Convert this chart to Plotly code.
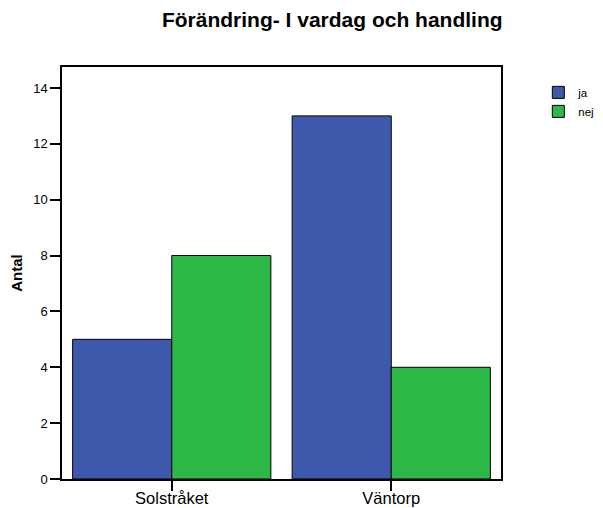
import plotly.graph_objects as go

categories = ["Solstråket", "Väntorp"]
ja_values = [5, 13]
nej_values = [8, 4]
y_ticks = [0, 2, 4, 6, 8, 10, 12, 14]

FONT = "Arial, Liberation Sans, sans-serif"

fig = go.Figure()
fig.add_trace(go.Bar(name="ja", x=categories, y=ja_values,
                     marker=dict(color="#3E58AC", line=dict(color="black", width=1))))
fig.add_trace(go.Bar(name="nej", x=categories, y=nej_values,
                     marker=dict(color="#2EB848", line=dict(color="black", width=1))))

# the page body adds an 8px offset, so the figure is 8px smaller on each axis
fig.update_layout(
    width=595, height=500,
    margin=dict(l=54, r=102, t=59, b=29, autoexpand=False),
    paper_bgcolor="white", plot_bgcolor="white",
    barmode="group", bargap=0.097, bargroupgap=0,
    font=dict(family=FONT, size=12, color="black"),
    title=dict(text="<b>Förändring- I vardag och handling</b>", x=0.545, xanchor="center",
               y=0.976, yanchor="middle", font=dict(size=21, family=FONT),
               automargin=False),
    legend=dict(x=1.085, y=0.9736, xanchor="left", yanchor="top",
                font=dict(size=11.5), tracegroupgap=0, itemwidth=30,
                bgcolor="rgba(0,0,0,0)"),
    showlegend=True,
)
fig.update_xaxes(showline=True, linecolor="black", linewidth=1.5, mirror=True,
                 ticks="outside", ticklen=10, tickcolor="black", tickwidth=1.5,
                 tickfont=dict(size=16.5), ticklabelstandoff=-7,
                 showgrid=False, automargin=False)
fig.update_yaxes(range=[0, 14.75], tickvals=y_ticks, showline=True, linecolor="black",
                 linewidth=1.5, mirror=True, ticks="outside", ticklen=10,
                 tickcolor="black", tickwidth=1.5, tickfont=dict(size=13),
                 showgrid=False, zeroline=False, automargin=False,
                 title=dict(text="<b>Antal</b>", font=dict(size=15), standoff=8))

fig.write_html("out.html")
